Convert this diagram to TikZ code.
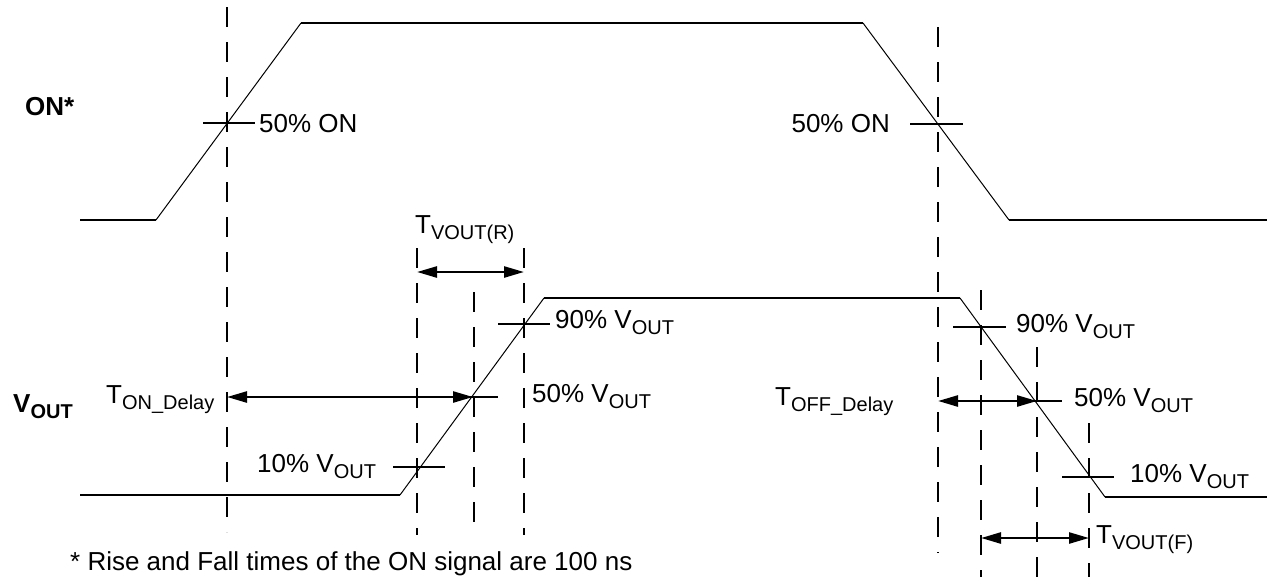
\documentclass[tikz,border=0pt]{standalone}
\usepackage{fontspec}
\setmainfont{Liberation Sans}
\usetikzlibrary{arrows.meta}
\newcommand\lsub[1]{\raisebox{-6pt}{\fontsize{20}{22}\selectfont #1}}
\begin{document}
\begin{tikzpicture}[x=1pt,y=-1pt,
  sig/.style={line width=2.5pt},
  slope/.style={line width=1pt},
  guide/.style={line width=2.5pt, dash pattern=on 20pt off 15pt},
  tick/.style={line width=2.5pt},
  dim/.style={line width=2.5pt, {Triangle[length=20pt,width=11pt]}-{Triangle[length=20pt,width=11pt]}},
  lbl/.style={font=\fontsize{26}{30}\selectfont, inner sep=0pt, anchor=base west},
  lble/.style={lbl, anchor=base east},
  blbl/.style={lbl, font=\fontsize{26}{30}\selectfont\bfseries}]
\useasboundingbox (0,0) rectangle (1276,584);
% ON signal
\coordinate (a0) at (80,220); \coordinate (a1) at (156,220);
\coordinate (a2) at (301,23); \coordinate (a3) at (863,23);
\coordinate (a4) at (1009,220); \coordinate (a5) at (1267,220);
\draw[sig] (a0) -- (a1); \draw[slope] (a1) -- (a2); \draw[sig] (a2) -- (a3);
\draw[slope] (a3) -- (a4); \draw[sig] (a4) -- (a5);
% VOUT signal
\coordinate (b0) at (80,495); \coordinate (b1) at (400,495);
\coordinate (b2) at (544,298); \coordinate (b3) at (960,298);
\coordinate (b4) at (1105,497); \coordinate (b5) at (1267,497);
\draw[sig] (b0) -- (b1); \draw[slope] (b1) -- (b2); \draw[sig] (b2) -- (b3);
\draw[slope] (b3) -- (b4); \draw[sig] (b4) -- (b5);
% guides
\coordinate (g1t) at (227,7);   \coordinate (g1b) at (227,532);
\coordinate (g2t) at (417,248); \coordinate (g2b) at (417,535);
\coordinate (g3t) at (474,292); \coordinate (g3b) at (474,535);
\coordinate (g4t) at (524,248); \coordinate (g4b) at (524,535);
\coordinate (g5t) at (938,27);  \coordinate (g5b) at (938,553);
\coordinate (g6t) at (981,290); \coordinate (g6b) at (981,577);
\coordinate (g7t) at (1037,347);\coordinate (g7b) at (1037,577);
\coordinate (g8t) at (1089,423);\coordinate (g8b) at (1089,577);
\foreach \g in {g1,g2,g3,g4,g5,g6,g7,g8} \draw[guide] (\g t) -- (\g b);
% ticks
\coordinate (t1a) at (203,123); \coordinate (t1b) at (255,123);
\coordinate (t2a) at (910,124); \coordinate (t2b) at (963,124);
\coordinate (t3a) at (498,324); \coordinate (t3b) at (550,324);
\coordinate (t4a) at (447,397); \coordinate (t4b) at (498,397);
\coordinate (t5a) at (393,467); \coordinate (t5b) at (445,467);
\coordinate (t6a) at (953,327); \coordinate (t6b) at (1006,327);
\coordinate (t7a) at (1010,401);\coordinate (t7b) at (1062,401);
\coordinate (t8a) at (1062,477);\coordinate (t8b) at (1114,477);
\foreach \t in {t1,t2,t3,t4,t5,t6,t7,t8} \draw[tick] (\t a) -- (\t b);
% dimension arrows
\coordinate (d1a) at (227,397); \coordinate (d1b) at (473,397);
\coordinate (d2a) at (417,272); \coordinate (d2b) at (524,272);
\coordinate (d3a) at (938,401); \coordinate (d3b) at (1037,401);
\coordinate (d4a) at (981,538); \coordinate (d4b) at (1089,538);
\foreach \d in {d1,d2,d3,d4} \draw[dim] (\d a) -- (\d b);
% labels
\node[blbl] (on) at (25,115) {ON*};
\node[blbl] (vout) at (13,412) {V\raisebox{-6pt}{\fontsize{20}{22}\selectfont\bfseries OUT}};
\node[lbl] (l1) at (259,132) {50\% ON};
\node[lble] (l2) at (890,132) {50\% ON};
\node[lbl] (tr) at (415,233) {T\lsub{VOUT(R)}};
\node[lbl] (l3) at (555,328) {90\% V\lsub{OUT}};
\node[lbl] (l4) at (532,402) {50\% V\lsub{OUT}};
\node[lbl] (l5) at (257,472) {10\% V\lsub{OUT}};
\node[lbl] (ton) at (106,403) {T\lsub{ON\_Delay}};
\node[lbl] (l6) at (1016,332) {90\% V\lsub{OUT}};
\node[lbl] (l7) at (1074,406) {50\% V\lsub{OUT}};
\node[lbl] (l8) at (1130,482) {10\% V\lsub{OUT}};
\node[lbl] (toff) at (775,405) {T\lsub{OFF\_Delay}};
\node[lbl] (tf) at (1096,543) {T\lsub{VOUT(F)}};
\node[lbl] (foot) at (70,570) {* Rise and Fall times of the ON signal are 100 ns};
\end{tikzpicture}
\end{document}
